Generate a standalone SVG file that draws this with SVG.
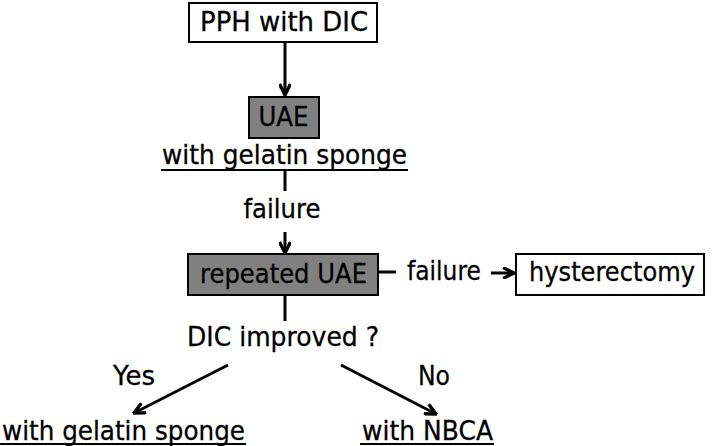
<svg xmlns="http://www.w3.org/2000/svg" width="712" height="446" viewBox="0 0 712 446">
<style>
text{font-family:"DejaVu Sans","Liberation Sans",sans-serif;font-size:27px;fill:#000;stroke:#000;stroke-width:0.3;text-anchor:middle}
.box{stroke:#000;stroke-width:2}
.w{fill:#fff}
.g{fill:#808080}
.ln{stroke:#000;stroke-width:3;fill:none}
.ul{stroke:#000;stroke-width:2}
</style>
<defs>
<marker id="ah" viewBox="0 0 10 10" refX="9" refY="5" markerWidth="4.3" markerHeight="4.3" orient="auto" markerUnits="strokeWidth">
<path d="M0.5,0.8 L9,5 L0.5,9.2" fill="none" stroke="#000" stroke-width="2.6" stroke-linejoin="miter"/>
</marker>
</defs>
<rect width="712" height="446" fill="#fff"/>
<g id="n-pph"><rect class="box w" x="189" y="3" width="188" height="39"/><text x="284" y="31" textLength="168" lengthAdjust="spacingAndGlyphs">PPH with DIC</text></g>
<g id="n-uae"><rect class="box g" x="249" y="97" width="70" height="41"/><text x="283.5" y="126" textLength="50" lengthAdjust="spacingAndGlyphs">UAE</text></g>
<g id="n-gel1"><text x="284.5" y="164" textLength="245" lengthAdjust="spacingAndGlyphs">with gelatin sponge</text><line class="ul" x1="161" y1="170" x2="408" y2="170"/></g>
<g id="n-rep"><rect class="box g" x="188" y="254" width="190" height="41"/><text x="283.5" y="283" textLength="167" lengthAdjust="spacingAndGlyphs">repeated UAE</text></g>
<g id="n-hys"><rect class="box w" x="516" y="254" width="188" height="41"/><text x="612" y="281" textLength="166" lengthAdjust="spacingAndGlyphs">hysterectomy</text></g>
<g id="n-dic"><text x="283" y="346" textLength="192" lengthAdjust="spacingAndGlyphs">DIC improved ?</text></g>
<g id="n-gel2"><text x="123.5" y="440" textLength="243" lengthAdjust="spacingAndGlyphs">with gelatin sponge</text><line class="ul" x1="0" y1="444" x2="246" y2="444"/></g>
<g id="n-nbca"><text x="427.5" y="440" textLength="131" lengthAdjust="spacingAndGlyphs">with NBCA</text><line class="ul" x1="360" y1="444" x2="494" y2="444"/></g>
<g id="connectors">
<line class="ln" x1="285" y1="42" x2="285" y2="95" marker-end="url(#ah)"/>
<line class="ln" x1="285" y1="170" x2="285" y2="191"/>
<text x="282" y="218" textLength="77" lengthAdjust="spacingAndGlyphs">failure</text>
<line class="ln" x1="285" y1="232" x2="285" y2="253" marker-end="url(#ah)"/>
<line class="ln" x1="379" y1="272" x2="396" y2="272"/>
<text x="444" y="280" textLength="74" lengthAdjust="spacingAndGlyphs">failure</text>
<line class="ln" x1="491" y1="273" x2="514" y2="273" marker-end="url(#ah)"/>
<line class="ln" x1="285" y1="295" x2="285" y2="321"/>
<line class="ln" x1="228" y1="365" x2="134" y2="413" marker-end="url(#ah)"/>
<text x="134" y="385" textLength="42" lengthAdjust="spacingAndGlyphs">Yes</text>
<line class="ln" x1="341" y1="365" x2="436" y2="414" marker-end="url(#ah)"/>
<text x="434" y="385" textLength="32" lengthAdjust="spacingAndGlyphs">No</text>
</g>
</svg>
